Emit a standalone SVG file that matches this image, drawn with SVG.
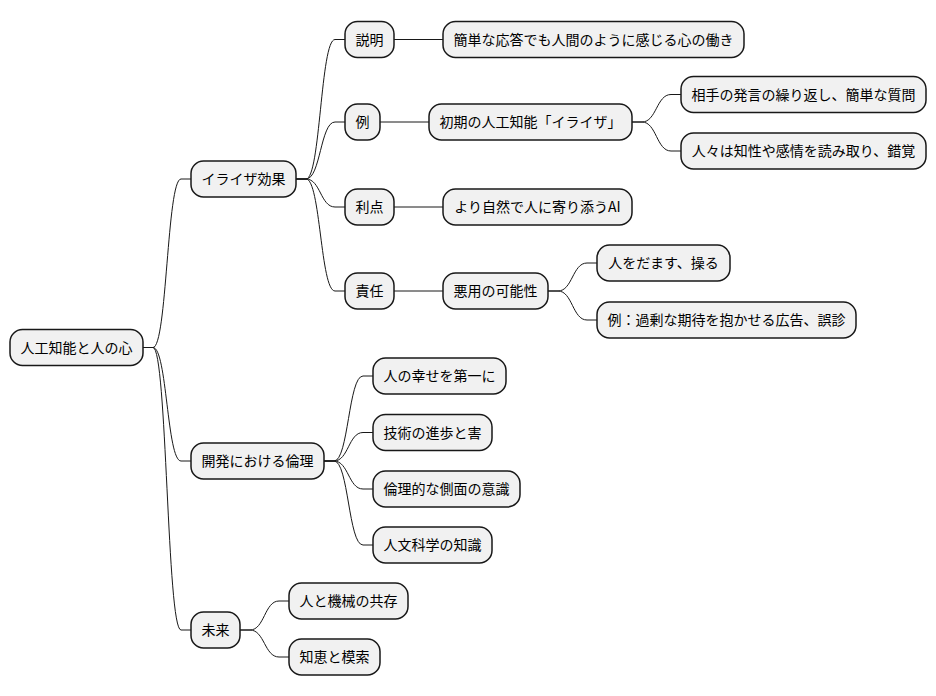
<svg xmlns="http://www.w3.org/2000/svg" width="936" height="696" viewBox="0 0 936 696">
<style>
.n rect{fill:#F1F1F1;stroke:#181818;stroke-width:1.5}
.n text{font-family:'Noto Sans CJK JP','Noto Sans',sans-serif;font-size:14px;fill:#000;text-anchor:middle}
.c path{fill:none;stroke:#181818;stroke-width:1}
</style>
<rect width="936" height="696" fill="#FFFFFF"/>
<g class="c">
<path d="M143,347.5 L153,347.5 C167,347.5 167,179 181,179 L191,179"/>
<path d="M143,347.5 L153,347.5 C167,347.5 167,461 181,461 L191,461"/>
<path d="M143,347.5 L153,347.5 C167,347.5 167,630 181,630 L191,630"/>
<path d="M296,179 L306,179 C320.5,179 320.5,39.5 335,39.5 L345,39.5"/>
<path d="M296,179 L306,179 C320.5,179 320.5,122 335,122 L345,122"/>
<path d="M296,179 L306,179 C320.5,179 320.5,207 335,207 L345,207"/>
<path d="M296,179 L306,179 C320.5,179 320.5,291 335,291 L345,291"/>
<path d="M394,39.5 L443,39.5"/>
<path d="M380,122 L429,122"/>
<path d="M394,207 L443,207"/>
<path d="M394,291 L443,291"/>
<path d="M632,122 L642,122 C656.5,122 656.5,94.5 671,94.5 L681,94.5"/>
<path d="M632,122 L642,122 C656.5,122 656.5,151 671,151 L681,151"/>
<path d="M548,291 L558,291 C572.5,291 572.5,263 587,263 L597,263"/>
<path d="M548,291 L558,291 C572.5,291 572.5,320 587,320 L597,320"/>
<path d="M324,461 L334,461 C348.5,461 348.5,376 363,376 L373,376"/>
<path d="M324,461 L334,461 C348.5,461 348.5,432.5 363,432.5 L373,432.5"/>
<path d="M324,461 L334,461 C348.5,461 348.5,489 363,489 L373,489"/>
<path d="M324,461 L334,461 C348.5,461 348.5,545 363,545 L373,545"/>
<path d="M240,630 L250,630 C264.5,630 264.5,601 279,601 L289,601"/>
<path d="M240,630 L250,630 C264.5,630 264.5,657 279,657 L289,657"/>
</g>
<g id="root" class="n"><rect x="10" y="329.5" width="133" height="36" rx="12.5"/><text x="76.5" y="352.5">人工知能と人の心</text></g>
<g id="eliza" class="n"><rect x="191" y="161" width="105" height="36" rx="12.5"/><text x="243.5" y="184">イライザ効果</text></g>
<g id="ethics" class="n"><rect x="191" y="443" width="133" height="36" rx="12.5"/><text x="257.5" y="466">開発における倫理</text></g>
<g id="future" class="n"><rect x="191" y="612" width="49" height="36" rx="12.5"/><text x="215.5" y="635">未来</text></g>
<g id="setsumei" class="n"><rect x="345" y="21.5" width="49" height="36" rx="12.5"/><text x="369.5" y="44.5">説明</text></g>
<g id="rei" class="n"><rect x="345" y="104" width="35" height="36" rx="12.5"/><text x="362.5" y="127">例</text></g>
<g id="riten" class="n"><rect x="345" y="189" width="49" height="36" rx="12.5"/><text x="369.5" y="212">利点</text></g>
<g id="sekinin" class="n"><rect x="345" y="273" width="49" height="36" rx="12.5"/><text x="369.5" y="296">責任</text></g>
<g id="kantan" class="n"><rect x="443" y="21.5" width="301" height="36" rx="12.5"/><text x="593.5" y="44.5">簡単な応答でも人間のように感じる心の働き</text></g>
<g id="shoki" class="n"><rect x="429" y="104" width="203" height="36" rx="12.5"/><text x="530.5" y="127">初期の人工知能「イライザ」</text></g>
<g id="aite" class="n"><rect x="681" y="76.5" width="245" height="36" rx="12.5"/><text x="803.5" y="99.5">相手の発言の繰り返し、簡単な質問</text></g>
<g id="hitobito" class="n"><rect x="681" y="133" width="245" height="36" rx="12.5"/><text x="803.5" y="156">人々は知性や感情を読み取り、錯覚</text></g>
<g id="shizen" class="n"><rect x="443" y="189" width="189" height="36" rx="12.5"/><text x="537.5" y="212">より自然で人に寄り添うAI</text></g>
<g id="akuyou" class="n"><rect x="443" y="273" width="105" height="36" rx="12.5"/><text x="495.5" y="296">悪用の可能性</text></g>
<g id="damasu" class="n"><rect x="597" y="245" width="133" height="36" rx="12.5"/><text x="663.5" y="268">人をだます、操る</text></g>
<g id="kokoku" class="n"><rect x="597" y="302" width="259" height="36" rx="12.5"/><text x="726.5" y="325">例：過剰な期待を抱かせる広告、誤診</text></g>
<g id="shiawase" class="n"><rect x="373" y="358" width="133" height="36" rx="12.5"/><text x="439.5" y="381">人の幸せを第一に</text></g>
<g id="gijutsu" class="n"><rect x="373" y="414.5" width="119" height="36" rx="12.5"/><text x="432.5" y="437.5">技術の進歩と害</text></g>
<g id="rinri" class="n"><rect x="373" y="471" width="147" height="36" rx="12.5"/><text x="446.5" y="494">倫理的な側面の意識</text></g>
<g id="jinbun" class="n"><rect x="373" y="527" width="119" height="36" rx="12.5"/><text x="432.5" y="550">人文科学の知識</text></g>
<g id="kyouzon" class="n"><rect x="289" y="583" width="119" height="36" rx="12.5"/><text x="348.5" y="606">人と機械の共存</text></g>
<g id="chie" class="n"><rect x="289" y="639" width="91" height="36" rx="12.5"/><text x="334.5" y="662">知恵と模索</text></g>
</svg>
